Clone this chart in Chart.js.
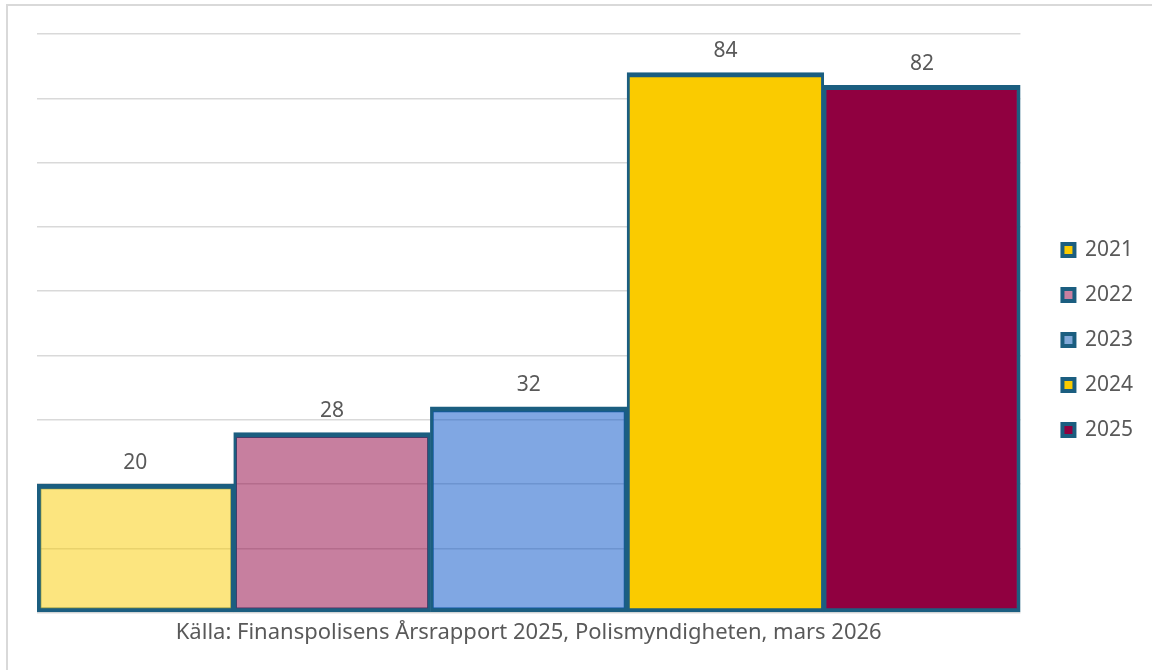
<!DOCTYPE html>
<html>
<head>
<meta charset="utf-8">
<script src="https://cdn.jsdelivr.net/npm/chart.js@4/dist/chart.umd.min.js"></script>
<style>
  body { margin: 0; background: #fff; }
  #wrap { position: relative; width: 1152px; height: 670px; overflow: hidden; }
  #frame { position: absolute; left: 6px; top: 4px; width: 1200px; height: 720px; border: 2px solid #d9d9d9; box-sizing: border-box; }
  canvas { position: absolute; left: 0; top: 0; }
</style>
</head>
<body>
<div id="wrap">
  <div id="frame"></div>
  <canvas id="chart" width="1152" height="670"></canvas>
</div>
<script>
const years = ['2021', '2022', '2023', '2024', '2025']
const values = [20, 28, 32, 84, 82]
const barColors = [
  'rgba(250, 203, 0, 0.5)',
  'rgba(144, 0, 64, 0.5)',
  'rgba(2, 80, 200, 0.5)',
  'rgba(250, 203, 0, 1)',
  'rgba(144, 0, 64, 1)'
]
const legendColors = ['#facb00', '#c97fa0', '#80a8d8', '#facb00', '#900040']
const caption = 'Källa: Finanspolisens Årsrapport 2025, Polismyndigheten, mars 2026'

const edge = '#1b5e80'
const textColor = '#595959'
const font = 'Noto Sans'

// value labels above each bar
const valueLabels = {
  id: 'valueLabels',
  afterDatasetsDraw(chart) {
    const ctx = chart.ctx
    ctx.save()
    ctx.font = '21px "' + font + '"'
    ctx.fillStyle = textColor
    ctx.textAlign = 'center'
    ctx.textBaseline = 'bottom'
    chart.data.datasets.forEach((ds, i) => {
      const bar = chart.getDatasetMeta(i).data[0]
      ctx.fillText(ds.data[0], bar.x, bar.y - 11)
    })
    ctx.restore()
  }
}

new Chart(document.getElementById('chart'), {
  type: 'bar',
  data: {
    labels: [''],
    datasets: years.map((y, i) => ({
      label: y,
      data: [values[i]],
      backgroundColor: barColors[i],
      borderColor: edge,
      // shared edges between neighbours split in two so they look single
      borderWidth: { top: 5, bottom: 4, left: i === 0 ? 4 : 3, right: i === years.length - 1 ? 4 : 3 },
      borderSkipped: false
    }))
  },
  options: {
    responsive: false,
    animation: false,
    layout: { padding: { left: 37, top: 34, right: 9, bottom: 24 } },
    datasets: { bar: { categoryPercentage: 1, barPercentage: 1 } },
    plugins: {
      tooltip: { enabled: false },
      legend: {
        position: 'right',
        labels: {
          color: textColor,
          font: { family: font, size: 21 },
          boxWidth: 12,
          boxHeight: 12,
          padding: 24,
          generateLabels(chart) {
            return chart.data.datasets.map((ds, i) => ({
              text: ds.label,
              fillStyle: legendColors[i],
              strokeStyle: edge,
              lineWidth: 4,
              fontColor: textColor,
              datasetIndex: i
            }))
          }
        }
      }
    },
    scales: {
      x: {
        grid: { display: false, drawTicks: false },
        border: { display: false },
        ticks: { display: false },
        title: {
          display: true,
          text: caption,
          color: textColor,
          font: { family: font, size: 22 },
          padding: { top: 7, bottom: 0 }
        }
      },
      y: {
        min: 0,
        max: 90,
        ticks: { display: false, stepSize: 10 },
        border: { display: false },
        grid: { color: '#d9d9d9', lineWidth: 1.5, drawTicks: false }
      },
      // empty spacer between plot and legend
      gap: {
        position: 'right',
        display: true,
        grid: { display: false, drawTicks: false },
        border: { display: false },
        ticks: { display: false },
        afterFit(scale) {
          scale.width = 18
        }
      }
    }
  },
  plugins: [valueLabels]
})
</script>
</body>
</html>
